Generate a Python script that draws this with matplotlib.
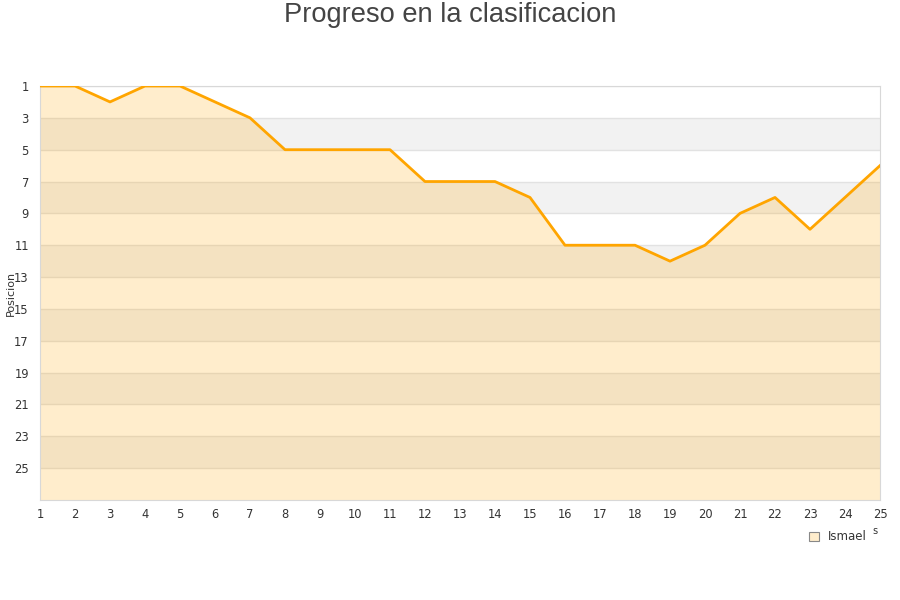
import matplotlib
matplotlib.use("Agg")
import matplotlib.pyplot as plt
from matplotlib.patches import Patch

jornadas = list(range(1, 26))
posiciones = [1, 1, 2, 1, 1, 2, 3, 5, 5, 5, 5, 7, 7, 7, 8, 11, 11, 11, 12, 11, 9, 8, 10, 8, 6]
y_ticks = list(range(1, 26, 2))
title = "Progreso en la clasificacion"
serie = "Ismael"

fig = plt.figure(figsize=(9, 6), dpi=100)
ax = fig.add_axes([40/900, 1-500/600, 840/900, 414/600])

ymax = 27
for lo in range(3, ymax, 4):
    ax.axhspan(lo, lo + 2, color="#f2f2f2", lw=0, zorder=0)
for t in y_ticks:
    ax.axhline(t, color="#e2e2e2", lw=1, zorder=1)

ax.fill_between(jornadas, posiciones, ymax, color="orange", alpha=0.2, lw=0, zorder=2)
ax.plot(jornadas, posiciones, color="#ffa500", lw=2, zorder=3)

ax.set_xlim(1, 25)
ax.set_ylim(ymax, 1)
ax.set_xticks(jornadas)
ax.set_yticks(y_ticks)
ax.tick_params(length=0, labelsize=8.3, colors="#333333")
ax.tick_params(axis="x", pad=6)
ax.tick_params(axis="y", pad=8)
for s in ax.spines.values():
    s.set_color("#d8d8d8")
ax.set_ylabel("Posicion", fontsize=8, color="#333333", labelpad=0)
ax.yaxis.set_label_coords(-24/840, 0.5)

fig.text(0.5, 1-15/600, title, ha="center", va="center", fontsize=19.6,
         color="#444444", family="Liberation Sans")
fig.text(875/900, 1-531/600, "s", ha="center", va="center", fontsize=7, color="#333333")

leg = fig.legend(handles=[Patch(facecolor="#ffedcc", edgecolor="#888888", lw=0.8, label=serie)],
                 loc="center", bbox_to_anchor=(838/900, 1-537/600), frameon=False,
                 fontsize=8.5, handlelength=0.8, handleheight=0.8, handletextpad=0.8)
for t in leg.get_texts():
    t.set_color("#333333")

fig.savefig("out.png", dpi=100)
